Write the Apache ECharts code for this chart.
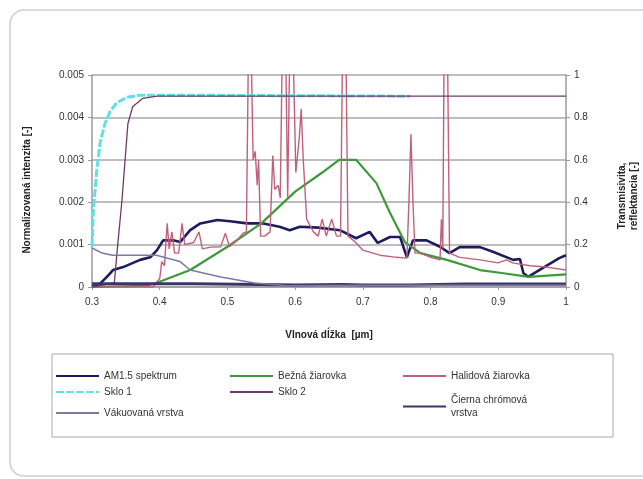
<!DOCTYPE html>
<html>
<head>
<meta charset="utf-8">
<script src="https://cdn.jsdelivr.net/npm/echarts@6/dist/echarts.min.js"></script>
<style>
html,body{margin:0;padding:0;background:#fff;}
#c{width:643px;height:479px;}
</style>
</head>
<body>
<div id="c"></div>
<script>
// ---- Data ----
const xTicks = [0.3, 0.4, 0.5, 0.6, 0.7, 0.8, 0.9, 1];

const am15X = [0.30,0.31,0.322,0.331,0.346,0.371,0.386,0.396,0.405,0.42,0.43,0.445,0.46,0.485,0.504,0.529,0.553,0.577,0.592,0.607,0.634,0.666,0.69,0.71,0.722,0.74,0.755,0.765,0.774,0.794,0.814,0.828,0.843,0.873,0.892,0.922,0.932,0.937,0.944,0.966,0.99,1.0];
const am15Y = [0,0.00005,0.00024,0.0004,0.00047,0.00064,0.0007,0.00087,0.0011,0.0011,0.00106,0.00134,0.0015,0.00158,0.00155,0.0015,0.0015,0.00142,0.00134,0.00142,0.0014,0.00134,0.00115,0.0013,0.00104,0.00118,0.00118,0.0007,0.0011,0.0011,0.00095,0.0008,0.00094,0.00094,0.00083,0.00064,0.00066,0.00033,0.00024,0.00045,0.00068,0.00075];

const bulbX = [0.30,0.38,0.396,0.445,0.50,0.55,0.60,0.64,0.665,0.69,0.72,0.74,0.762,0.785,0.824,0.873,0.905,0.945,1.0];
const bulbY = [0,0.00003,0.0001,0.0004,0.00095,0.0015,0.00225,0.0027,0.003,0.003,0.00245,0.00175,0.00106,0.0008,0.00064,0.0004,0.00033,0.00024,0.0003];

const halX = [0.30,0.39,0.40,0.403,0.407,0.411,0.414,0.418,0.422,0.428,0.433,0.437,0.45,0.458,0.463,0.475,0.49,0.497,0.503,0.514,0.523,0.528,0.531,0.535,0.538,0.541,0.544,0.546,0.549,0.555,0.563,0.567,0.570,0.575,0.578,0.581,0.586,0.589,0.592,0.597,0.601,0.606,0.609,0.612,0.617,0.627,0.634,0.64,0.646,0.654,0.661,0.667,0.670,0.675,0.678,0.686,0.70,0.725,0.75,0.765,0.768,0.771,0.774,0.777,0.785,0.80,0.814,0.816,0.818,0.820,0.825,0.828,0.843,0.873,0.90,0.912,0.921,0.947,0.971,1.0];
const halY = [0,0,0.0002,0.0006,0.0005,0.0015,0.0009,0.0013,0.0008,0.0008,0.0015,0.001,0.00105,0.0013,0.0009,0.00094,0.00095,0.00127,0.00095,0.0011,0.00127,0.0013,0.0056,0.0056,0.003,0.0032,0.0024,0.003,0.0012,0.0012,0.0013,0.0031,0.0023,0.0024,0.0021,0.0056,0.0056,0.0021,0.0056,0.0056,0.0027,0.0035,0.0042,0.003,0.0016,0.0013,0.0012,0.0016,0.0012,0.0016,0.0012,0.0012,0.0056,0.0056,0.0012,0.0011,0.00087,0.00075,0.0007,0.00068,0.002,0.0036,0.002,0.0008,0.0008,0.0007,0.00064,0.0016,0.0009,0.0056,0.0056,0.0008,0.0007,0.00064,0.00057,0.00064,0.00057,0.0005,0.00047,0.0004];

const glass1X = [0.30,0.302,0.307,0.312,0.319,0.327,0.337,0.352,0.37,0.40,0.77];
const glass1Y = [0.19,0.36,0.55,0.68,0.77,0.83,0.87,0.895,0.905,0.905,0.9];

const glass2X = [0.30,0.333,0.338,0.344,0.353,0.36,0.375,0.396,1.0];
const glass2Y = [0,0.02,0.2,0.40,0.77,0.85,0.89,0.9,0.9];

const chromeX = [0.30,0.45,0.55,0.60,0.67,0.70,0.77,0.85,1.0];
const chromeY = [0.015,0.015,0.012,0.01,0.012,0.01,0.01,0.014,0.014];

const vacX = [0.30,0.315,0.33,0.365,0.395,0.43,0.445,0.49,0.54,0.59,0.70,1.0];
const vacY = [0.184,0.16,0.15,0.15,0.15,0.12,0.08,0.047,0.019,0.006,0.008,0.008];

const names = ['AM1.5 spektrum','Bežná žiarovka','Halidová žiarovka','Sklo 1','Sklo 2','Čierna chrómová vrstva','Vákuovaná vrstva'];

function pairs(xs, ys){ return xs.map((x,i)=>[x, ys[i]]); }

const FONT = '"Liberation Sans", Arial, sans-serif';
const chart = echarts.init(document.getElementById('c'), null, {renderer:'canvas'});

const seriesDefs = [
  {name:names[0], data:pairs(am15X,am15Y), y:0, color:'#1e1c5e', width:2.6},
  {name:names[1], data:pairs(bulbX,bulbY), y:0, color:'#3c9a3a', width:2.2},
  {name:names[2], data:pairs(halX,halY), y:0, color:'#c2607c', width:1.4},
  {name:names[3], data:pairs(glass1X,glass1Y), y:1, color:'#5fe0e6', width:3, type:[8,2]},
  {name:names[4], data:pairs(glass2X,glass2Y), y:1, color:'#6e3a6a', width:1.3},
  {name:names[5], data:pairs(chromeX,chromeY), y:1, color:'#3a3468', width:3},
  {name:names[6], data:pairs(vacX,vacY), y:1, color:'#7a7aa8', width:1.5}
];

const legendPos = [
  {left:55, top:371},
  {left:229, top:371},
  {left:402, top:371},
  {left:55, top:387},
  {left:229, top:387},
  {left:402, top:387, wrap:true},
  {left:55, top:408}
];

const legends = seriesDefs.map((s,i)=>{
  const p = legendPos[i];
  const lg = {
    data:[{name:s.name}], left:p.left, top:p.top, orient:'horizontal',
    itemWidth:43, itemHeight:8, selectedMode:false, padding:0,
    itemStyle:{opacity:0},
    textStyle:{fontFamily:FONT, fontSize:10, color:'#333'}
  };
  if (p.wrap) {
    lg.formatter = () => 'Čierna chrómová\nvrstva';
    lg.textStyle.lineHeight = 13;
    lg.textStyle.padding = [13,0,0,0];
  }
  return lg;
});

chart.setOption({
  animation:false,
  backgroundColor:'#ffffff',
  graphic:[
    {type:'rect', shape:{x:10, y:10, width:700, height:466, r:14}, style:{fill:'none', stroke:'#cfcfcf', lineWidth:1.5}, z:-10},
    {type:'rect', shape:{x:52, y:354, width:561, height:83}, style:{fill:'#fff', stroke:'#a8a8a8', lineWidth:1}, z:-5}
  ],
  legend: legends,
  grid:{left:92, right:77, top:75, bottom:192, containLabel:false, outerBoundsMode:'none'},
  xAxis:{
    type:'value', min:0.3, max:1, interval:0.1,
    name:'Vlnová dĺžka  [µm]', nameLocation:'middle', nameGap:43,
    nameTextStyle:{fontFamily:FONT, fontSize:10, fontWeight:'bold', color:'#222'},
    axisLine:{show:true, onZero:false, lineStyle:{color:'#9a9a9a', width:1.5}},
    axisTick:{show:true, length:3, lineStyle:{color:'#9a9a9a'}},
    axisLabel:{fontFamily:FONT, fontSize:10, color:'#333', margin:10, formatter:v=>String(+v.toFixed(1))},
    splitLine:{show:false}
  },
  yAxis:[
    {
      type:'value', min:0, max:0.005, interval:0.001, position:'left',
      name:'Normalizovaná intenzita [-]', nameLocation:'middle', nameGap:60, nameRotate:90,
      nameTextStyle:{fontFamily:FONT, fontSize:10, fontWeight:'bold', color:'#222', padding:[0,18,0,0]},
      axisLine:{show:true, lineStyle:{color:'#9a9a9a', width:1.5}},
      axisTick:{show:true, length:4, lineStyle:{color:'#9a9a9a'}},
      axisLabel:{fontFamily:FONT, fontSize:10, color:'#333', margin:8, formatter:v=>String(+v.toFixed(3))},
      splitLine:{show:true, lineStyle:{color:'#a8a8a8', width:1.5}}
    },
    {
      type:'value', min:0, max:1, interval:0.2, position:'right',
      name:'Transmisivita,\nreflektancia [-]', nameLocation:'middle', nameGap:50, nameRotate:90,
      nameTextStyle:{fontFamily:FONT, fontSize:10, fontWeight:'bold', color:'#222', lineHeight:12, padding:[0,30,0,0]},
      axisLine:{show:true, lineStyle:{color:'#9a9a9a', width:1.5}},
      axisTick:{show:true, length:4, lineStyle:{color:'#9a9a9a'}},
      axisLabel:{fontFamily:FONT, fontSize:10, color:'#333', margin:8, formatter:v=>String(+v.toFixed(1))},
      splitLine:{show:false}
    }
  ],
  series: seriesDefs.map(s=>({
    type:'line', name:s.name, data:s.data, yAxisIndex:s.y,
    symbol:'none', showSymbol:false, clip:true,
    lineStyle:{color:s.color, width:s.width, type:s.type||'solid'},
    itemStyle:{color:s.color}
  }))
});
</script>
</body>
</html>
